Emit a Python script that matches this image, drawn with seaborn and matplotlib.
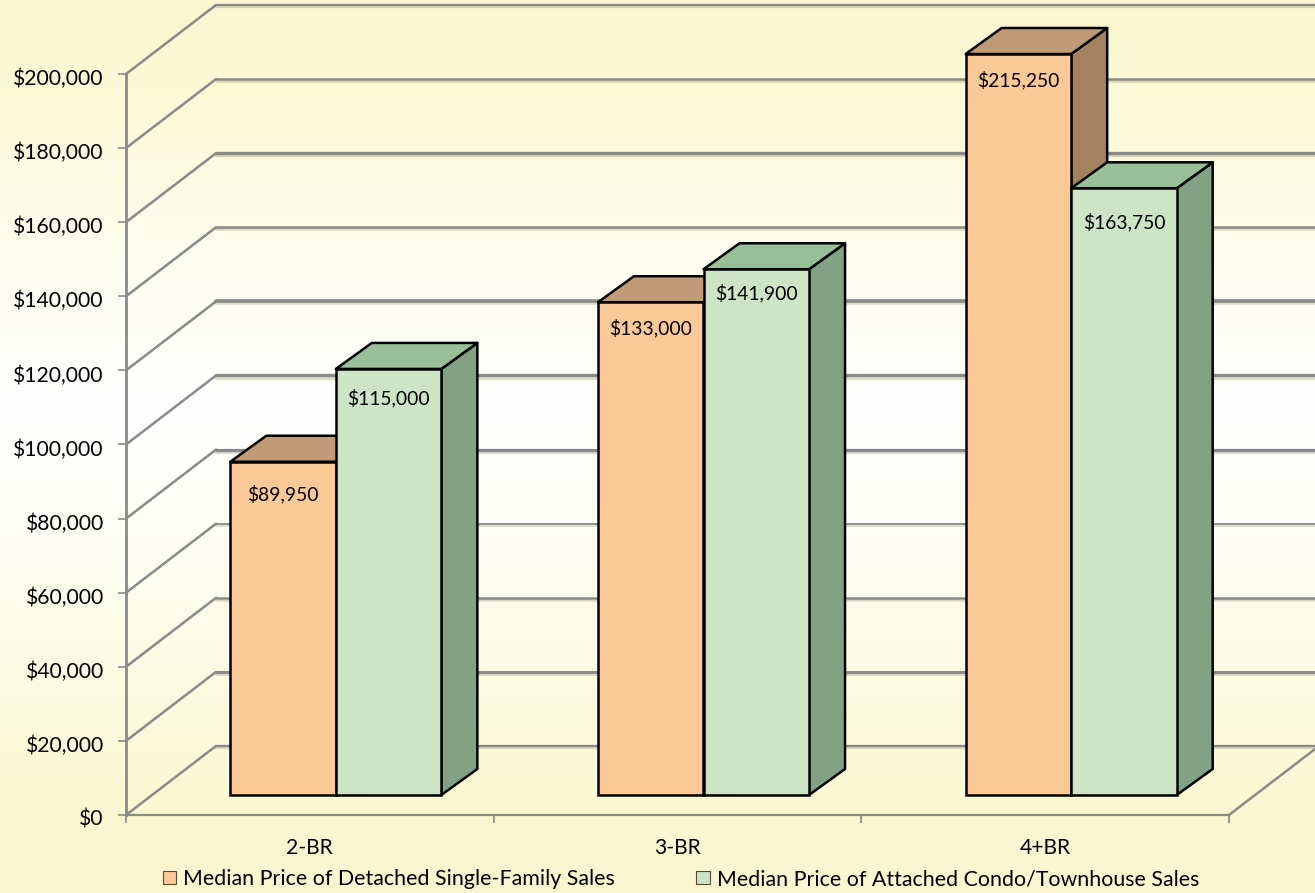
import numpy as np
import pandas as pd
import seaborn as sns
import matplotlib.pyplot as plt
import matplotlib.patheffects as pe
from matplotlib.colors import LinearSegmentedColormap
from matplotlib.patches import Polygon, Patch
from matplotlib.transforms import ScaledTranslation

sns.set_theme(style="white")
plt.rcParams['font.family'] = ['Lato', 'DejaVu Sans']

# Chart values
categories = ['2-BR', '3-BR', '4+BR']
series_names = ['Median Price of Detached Single-Family Sales',
                'Median Price of Attached Condo/Townhouse Sales']
detached = [89950, 133000, 215250]
attached = [115000, 141900, 163750]
y_ticks = list(range(0, 200001, 20000))

# Layout in pixels of the 1315x893 picture
W, H = 1315, 893
LEFT, RIGHT, BASE, TOP = 126, 1229, 815, 74
BAR_SHIFT = (26, 20)    # bars stand this far into the floor
WALL_SHIFT = (90, 69)   # back wall offset from the front plane
BAR_DEPTH = (36, 26)    # depth of each bar
TICK_FONT = 15.2
LABEL_FONT = 13.9
LEGEND_FONT = 15.4
EDGE = 1.8

face_colors = ['#FBC997', '#CDE4C5']
top_colors = ['#C19B75', '#99BF99']
side_colors = ['#A5825F', '#82A383']
grid_color = '#8A8A8A'
# grid lines come out unevenly heavy in the original, 0 to 200k
grid_widths = [1.6, 2.2, 1.8, 1.3, 2.3, 2.4, 2.6, 1.8, 2.4, 1.8, 1.6]
# how far each value label sits below its bar top, pixels
label_drops = [[32, 26, 26], [29, 24, 34]]


def frame(x0, x1, y0, y1):
    return [x0 / W, 1 - y0 / H, (x1 - x0) / W, (y0 - y1) / H]


fig = plt.figure(figsize=(W / 100, H / 100), dpi=100)

# Background gradient, pale yellow to white and back
bg = fig.add_axes([0, 0, 1, 1], zorder=0)
cmap = LinearSegmentedColormap.from_list('bg', [
    (0.0, '#FBF6CF'), (0.12, '#FBFAD8'), (0.3, '#FDFDF0'), (0.45, '#FFFFFF'),
    (0.6, '#FEFEF6'), (0.78, '#FBFBDF'), (0.92, '#FAF7D0'), (1.0, '#FAF7D0')])
bg.imshow(np.linspace(0, 1, 256).reshape(-1, 1), aspect='auto', cmap=cmap, vmin=0, vmax=1)
bg.axis('off')

# Front plane: carries the axes, ticks and walls
ax = fig.add_axes(frame(LEFT, RIGHT, BASE, TOP), zorder=1)
ax.patch.set_alpha(0)
ax.set_xlim(-0.5, 2.5)
ax.set_ylim(0, 200000)
x_unit = (RIGHT - LEFT) / 3
y_unit = (BASE - TOP) / 200000

wall_dx = WALL_SHIFT[0] / x_unit
wall_dy = WALL_SHIFT[1] / y_unit
shadow = [pe.SimpleLineShadow(offset=(0, -1.5), shadow_color='#8A8A60', alpha=0.3), pe.Normal()]
for val, lw in zip(y_ticks, grid_widths):
    ax.plot([-0.5, -0.5 + wall_dx], [val, val + wall_dy], color=grid_color, lw=1.8,
            clip_on=False, zorder=1, solid_capstyle='round')
    ax.plot([-0.5 + wall_dx, 2.5 + wall_dx], [val + wall_dy, val + wall_dy], color=grid_color,
            lw=lw, clip_on=False, zorder=1, path_effects=shadow)
ax.plot([2.5, 2.5 + wall_dx], [0, wall_dy], color=grid_color, lw=1.8, clip_on=False, zorder=1)

for name in ['top', 'right']:
    ax.spines[name].set_visible(False)
for name in ['left', 'bottom']:
    ax.spines[name].set_color(grid_color)
ax.spines['left'].set_linewidth(2.0)
ax.spines['bottom'].set_linewidth(1.6)

ax.set_yticks(y_ticks)
ax.set_yticklabels([f'${v:,}' for v in y_ticks], fontsize=TICK_FONT, color='black')
ax.set_xticks([-0.5, 0.5, 1.5, 2.5])
ax.set_xticklabels([])
ax.set_xticks(range(3), categories, minor=True, fontsize=TICK_FONT, color='black')
ax.tick_params(axis='y', length=6, width=1.2, color=grid_color, pad=10, left=True)
ax.tick_params(axis='x', which='major', length=6, width=1.2, color=grid_color, bottom=True)
ax.tick_params(axis='x', which='minor', length=0, pad=16.5)

# y labels sit a little under their ticks
nudge = ScaledTranslation(0, -3 / 100, fig.dpi_scale_trans)
for label in ax.get_yticklabels():
    label.set_transform(label.get_transform() + nudge)

# Bars sit on their own plane, shifted back from the axes
bar_ax = fig.add_axes(frame(LEFT + BAR_SHIFT[0], RIGHT + BAR_SHIFT[0],
                            BASE - BAR_SHIFT[1], TOP - BAR_SHIFT[1]), zorder=2)
bar_ax.patch.set_alpha(0)

df = pd.DataFrame({
    'bedrooms': categories * 2,
    'price': detached + attached,
    'series': [series_names[0]] * 3 + [series_names[1]] * 3,
})
sns.barplot(data=df, x='bedrooms', y='price', hue='series', hue_order=series_names,
            palette=face_colors, saturation=1, width=0.574, gap=0, errorbar=None,
            edgecolor='black', linewidth=EDGE, legend=False, ax=bar_ax)
bar_ax.set_xlim(-0.5, 2.5)
bar_ax.set_ylim(0, 200000)
bar_ax.axis('off')

depth_x = BAR_DEPTH[0] / x_unit
depth_y = BAR_DEPTH[1] / y_unit
ymax = bar_ax.get_ylim()[1]
all_values = [detached, attached]
for i, container in enumerate(bar_ax.containers):
    for j, bar in enumerate(container):
        x0 = bar.get_x()
        x1 = x0 + bar.get_width()
        h = min(bar.get_height(), ymax)
        bar.set_height(h)
        bar.set_clip_on(False)
        bar.set_zorder(3 + i * 3)
        side = Polygon([(x1, 0), (x1 + depth_x, depth_y), (x1 + depth_x, h + depth_y), (x1, h)],
                       closed=True, fc=side_colors[i], ec='black', lw=EDGE,
                       joinstyle='round', clip_on=False, zorder=2 + i * 3)
        top = Polygon([(x0, h), (x0 + depth_x, h + depth_y), (x1 + depth_x, h + depth_y), (x1, h)],
                      closed=True, fc=top_colors[i], ec='black', lw=EDGE,
                      joinstyle='round', clip_on=False, zorder=2 + i * 3)
        bar_ax.add_patch(side)
        bar_ax.add_patch(top)
        bar_ax.annotate(f'${all_values[i][j]:,}', xy=((x0 + x1) / 2, h),
                        xytext=(0, -label_drops[i][j]), textcoords='offset pixels',
                        ha='center', va='center', fontsize=LABEL_FONT, color='black',
                        annotation_clip=False, zorder=20)

# Legend along the bottom
handles = [Patch(fc=c, ec='#5A4A3A', lw=0.8) for c in face_colors]
fig.legend(handles, series_names, loc='center', bbox_to_anchor=(681 / W, 1 - 879 / H),
           ncol=2, frameon=False, fontsize=LEGEND_FONT, handlelength=0.62, handleheight=0.62,
           handletextpad=0.33, columnspacing=3.8, borderpad=0, labelcolor='black')

plt.savefig('out.png', dpi=100)
plt.close()
